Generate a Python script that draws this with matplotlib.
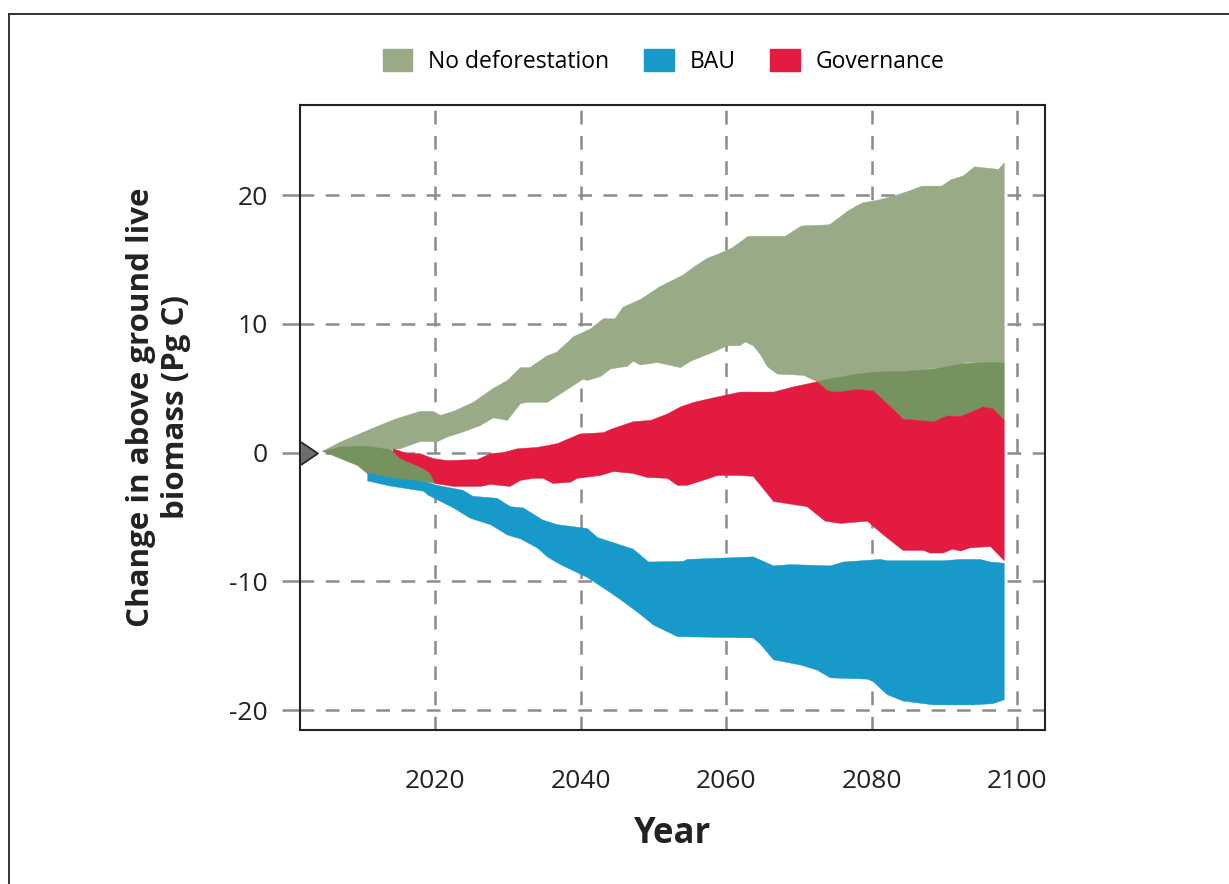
import numpy as np
import matplotlib
matplotlib.use("Agg")
import matplotlib.pyplot as plt
from matplotlib.patches import Patch
from matplotlib.lines import Line2D

plt.rcParams['font.family'] = ['Open Sans', 'DejaVu Sans']

# colours
c_nodef = "#98ab86"
c_overlap = "#76925f"
c_bau = "#1799c9"
c_gov = "#e31b40"

# No deforestation band
nd_up_x = [2004.5, 2006.9, 2011.0, 2014.5, 2017.9, 2019.7, 2020.7, 2022.5, 2025.2, 2028.0,
           2029.9, 2031.7, 2033.0, 2035.3, 2036.7, 2039.0, 2041.3, 2043.1, 2044.7, 2045.8,
           2048.2, 2050.9, 2054.1, 2055.5, 2057.4, 2058.8, 2060.8, 2063.0, 2068.1, 2070.3,
           2074.2, 2076.8, 2078.7, 2080.8, 2083.4, 2085.0, 2086.9, 2089.6, 2090.9, 2092.6,
           2094.1, 2097.4, 2098.2]
nd_up = [0.1, 0.8, 1.8, 2.6, 3.2, 3.2, 2.9, 3.2, 3.9, 5.0,
         5.6, 6.6, 6.6, 7.5, 7.8, 9.0, 9.6, 10.4, 10.4, 11.3,
         11.9, 12.9, 13.8, 14.4, 15.1, 15.4, 15.9, 16.8, 16.8, 17.6,
         17.7, 18.8, 19.4, 19.6, 20.0, 20.3, 20.7, 20.7, 21.2, 21.5,
         22.2, 22.0, 22.5]

nd_lo_x = [2004.5, 2006.9, 2010.7, 2013.8, 2015.2, 2017.9, 2020.3, 2021.6, 2023.8, 2026.2,
           2028.0, 2029.9, 2031.7, 2032.6, 2035.4, 2037.6, 2040.3, 2040.9, 2042.7, 2044.1,
           2046.4, 2047.2, 2048.2, 2050.5, 2053.7, 2055.1, 2058.2, 2060.1, 2061.9, 2062.6,
           2063.7, 2064.7, 2065.6, 2067.0, 2070.6, 2072.5, 2075.7, 2080.2, 2084.9, 2089.4,
           2093.1, 2098.2]
nd_lo = [0.1, 0.45, 0.5, 0.25, 0.3, 0.85, 0.85, 1.2, 1.6, 2.1,
         2.7, 2.5, 3.8, 3.9, 3.9, 4.7, 5.7, 5.6, 5.9, 6.5,
         6.7, 7.1, 6.8, 7.0, 6.6, 7.1, 7.8, 8.3, 8.3, 8.6,
         8.3, 7.6, 6.7, 6.1, 6.0, 5.5, 5.9, 6.25, 6.3, 6.6,
         7.0, 6.95]

# overlap of No deforestation with the other scenarios (darker green)
ov1_x = [2004.5, 2006.9, 2009.3, 2010.7, 2013.8, 2014.5, 2018.4, 2020.0]
ov1_up = [0.1, 0.45, 0.5, 0.5, 0.25, 0.0, -0.5, -0.8]
ov1_lo = [0.1, -0.45, -1.0, -1.65, -2.0, -2.05, -2.25, -2.4]

ov2_x = [2072.5, 2073.9, 2075.3, 2078.0, 2080.2, 2082.5, 2084.3, 2088.5, 2090.4, 2092.2,
         2095.3, 2096.7, 2098.2]
ov2_up = [5.5, 5.7, 5.85, 6.1, 6.25, 6.3, 6.3, 6.5, 6.7, 6.9, 7.0, 7.0, 6.95]
ov2_lo = [5.5, 4.8, 4.7, 4.9, 4.8, 3.6, 2.6, 2.4, 2.85, 2.8, 3.55, 3.4, 2.5]

# Governance band
gv_up_x = [2014.2, 2016.2, 2017.9, 2019.7, 2021.6, 2025.8, 2027.6, 2029.3, 2031.3, 2034.0,
           2036.8, 2039.9, 2043.1, 2044.1, 2047.2, 2049.6, 2051.9, 2053.7, 2055.5, 2058.2,
           2061.9, 2066.5, 2069.2, 2072.5, 2073.9, 2075.3, 2078.0, 2080.2, 2082.5, 2084.3,
           2088.5, 2090.4, 2092.2, 2095.3, 2096.7, 2098.2]
gv_up = [0.3, -0.08, -0.08, -0.46, -0.62, -0.54, -0.08, 0.0, 0.3, 0.4,
         0.7, 1.45, 1.55, 1.8, 2.4, 2.5, 3.0, 3.55, 3.9, 4.25,
         4.7, 4.7, 5.1, 5.5, 4.8, 4.7, 4.9, 4.8, 3.6, 2.6,
         2.4, 2.85, 2.8, 3.55, 3.4, 2.5]

gv_lo_x = [2014.2, 2015.2, 2018.4, 2019.3, 2020.0, 2022.5, 2026.2, 2027.6, 2028.9, 2030.3,
           2031.7, 2033.5, 2034.8, 2036.2, 2038.6, 2039.5, 2042.7, 2044.5, 2047.2, 2049.1,
           2051.9, 2053.3, 2054.6, 2056.8, 2058.8, 2061.9, 2063.7, 2066.5, 2071.1, 2073.6,
           2075.7, 2079.4, 2081.6, 2084.3, 2087.1, 2088.0, 2089.8, 2091.1, 2092.2, 2093.5,
           2096.3, 2098.2]
gv_lo = [0.1, -0.46, -1.24, -1.6, -2.4, -2.63, -2.63, -2.47, -2.55, -2.63,
         -2.16, -2.0, -2.0, -2.4, -2.3, -2.0, -1.78, -1.47, -1.62, -1.93,
         -2.0, -2.55, -2.55, -2.16, -1.78, -1.78, -1.85, -3.8, -4.2, -5.33,
         -5.5, -5.33, -6.4, -7.6, -7.6, -7.8, -7.8, -7.5, -7.65, -7.4,
         -7.3, -8.4]

# BAU band
bau_up_x = [2010.7, 2013.8, 2018.4, 2020.3, 2023.8, 2025.2, 2028.5, 2030.3, 2032.1, 2034.8,
            2036.8, 2040.9, 2042.3, 2047.2, 2049.3, 2054.1, 2054.6, 2063.7, 2066.5, 2068.8,
            2074.3, 2076.1, 2081.2, 2082.1, 2089.8, 2092.2, 2094.9, 2096.3, 2098.2]
bau_up = [-1.62, -1.95, -2.25, -2.55, -2.93, -3.4, -3.55, -4.2, -4.3, -5.25,
          -5.6, -5.9, -6.6, -7.5, -8.5, -8.45, -8.3, -8.1, -8.8, -8.7,
          -8.8, -8.5, -8.3, -8.4, -8.4, -8.3, -8.3, -8.5, -8.6]

bau_lo_x = [2010.7, 2013.8, 2018.4, 2019.0, 2022.5, 2024.8, 2027.6, 2029.9, 2031.7, 2034.0,
            2035.4, 2037.2, 2040.9, 2043.6, 2045.4, 2047.8, 2050.0, 2053.3, 2063.7, 2064.7,
            2066.5, 2070.2, 2072.5, 2074.3, 2079.4, 2080.2, 2082.1, 2084.3, 2088.5, 2094.0,
            2096.7, 2098.2]
bau_lo = [-2.2, -2.6, -3.0, -3.3, -4.3, -5.1, -5.6, -6.4, -6.7, -7.4,
          -8.1, -8.7, -9.7, -10.7, -11.4, -12.4, -13.4, -14.3, -14.4, -14.9,
          -16.1, -16.5, -16.9, -17.5, -17.6, -17.8, -18.8, -19.3, -19.6, -19.6,
          -19.5, -19.2]

xticks = [2020, 2040, 2060, 2080, 2100]
yticks = [-20, -10, 0, 10, 20]


def band(ax, xu, yu, xl, yl, color, z):
    # polygon from the upper edge (left to right) and lower edge (right to left)
    xs = list(xu) + list(xl)[::-1]
    ys = list(yu) + list(yl)[::-1]
    ax.fill(xs, ys, color=color, lw=0.3, ec=color, zorder=z)


fig = plt.figure(figsize=(12.29, 8.84), dpi=100)
ax = fig.add_axes([0.2441, 0.1742, 0.6062, 0.7070])

band(ax, nd_up_x, nd_up, nd_lo_x, nd_lo, c_nodef, 2)
band(ax, ov1_x, ov1_up, ov1_x, ov1_lo, c_overlap, 3)
band(ax, ov2_x, ov2_up, ov2_x, ov2_lo, c_overlap, 3)
band(ax, gv_up_x, gv_up, gv_lo_x, gv_lo, c_gov, 4)
band(ax, bau_up_x, bau_up, bau_lo_x, bau_lo, c_bau, 5)

# start marker
tri = [(-0.74, -1), (0.74, 0), (-0.74, 1)]
ax.plot([2002.7], [0], marker=tri, ms=16.5, color="#6d6d6d", mec="#222222", mew=1.2,
        clip_on=False, zorder=10)

ax.set_xlim(2001.4, 2103.8)
ax.set_ylim(-21.55, 27.0)
ax.set_xticks(xticks)
ax.set_yticks(yticks)
ax.set_xticklabels([str(t) for t in xticks])
ax.set_yticklabels([str(t) for t in yticks])

ax.grid(True, color="#8c8c8c", lw=1.8, ls=(0, (5.5, 4.6)), zorder=0)
ax.set_axisbelow(True)

ax.tick_params(axis="y", direction="out", length=13, width=1.8, color="#8c8c8c",
               pad=10, labelsize=19, labelcolor="#222222")
ax.tick_params(axis="x", direction="out", length=0, pad=28, labelsize=19,
               labelcolor="#222222")
for s in ax.spines.values():
    s.set_linewidth(1.5)
    s.set_color("#222222")

fig.text(0.129, 0.5396, "Change in above ground live\nbiomass (Pg C)", rotation=90,
         ha="center", va="center", fontsize=22.5, fontweight="bold", color="#222222",
         linespacing=1.2)
fig.text(0.547, 0.057, "Year", ha="center", va="center", fontsize=25,
         fontweight="bold", color="#222222")

handles = [Patch(color=c_nodef, label="No deforestation"),
           Patch(color=c_bau, label="BAU"),
           Patch(color=c_gov, label="Governance")]
fig.legend(handles=handles, loc="center", bbox_to_anchor=(0.540, 0.930), ncol=3,
           frameon=False, fontsize=16.5, handlelength=1.3, handleheight=1.1,
           handletextpad=0.7, columnspacing=1.5)

# outer frame (top and left edges visible)
fig.add_artist(Line2D([9 / 1229, 9 / 1229], [-0.05, 1 - 14 / 884], color="#333333",
                      lw=1.4, transform=fig.transFigure))
fig.add_artist(Line2D([9 / 1229, 1.05], [1 - 14 / 884, 1 - 14 / 884], color="#333333",
                      lw=1.4, transform=fig.transFigure))

fig.savefig("out.png", dpi=100)
